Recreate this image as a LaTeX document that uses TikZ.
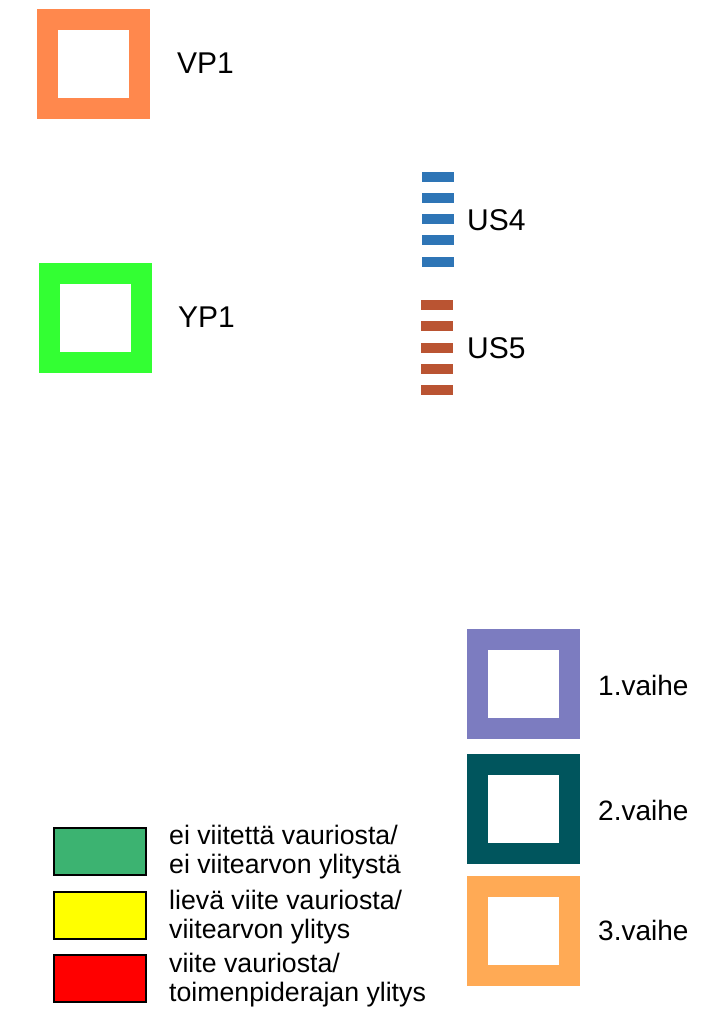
\documentclass[tikz,border=0pt]{standalone}
\usepackage{fontspec}
\setmainfont{Liberation Sans}
\usetikzlibrary{positioning}
\definecolor{vpOrange}{RGB}{255,136,77}
\definecolor{ypGreen}{RGB}{51,255,51}
\definecolor{usBlue}{RGB}{46,117,182}
\definecolor{usBrown}{RGB}{186,84,50}
\definecolor{phaseOne}{RGB}{124,124,192}
\definecolor{phaseTwo}{RGB}{0,85,93}
\definecolor{phaseThree}{RGB}{255,170,85}
\definecolor{keyGreen}{RGB}{60,179,113}
\definecolor{keyYellow}{RGB}{255,255,0}
\definecolor{keyRed}{RGB}{255,0,0}
\tikzset{
  frame/.style={draw=#1,line width=21pt,minimum width=92pt,minimum height=89pt,inner sep=0pt},
  lbl/.style={anchor=west,inner sep=0pt,font=\fontsize{30}{36}\selectfont},
  phaselbl/.style={anchor=west,inner sep=0pt,font=\fontsize{28}{34}\selectfont},
  key/.style={draw=black,line width=2pt,fill=#1,minimum width=92pt,minimum height=47pt,inner sep=0pt},
  keytxt/.style={anchor=west,inner sep=0pt,align=left,font=\fontsize{26.7}{29}\selectfont}
}
\begin{document}
\begin{tikzpicture}[x=1pt,y=-1pt]
\useasboundingbox (0,0) rectangle (709,1014);
% sample points
\node[frame=vpOrange] (vp1) at (93.5,64) {};
\node[lbl] (vp1lbl) at (177,63) {VP1};
\node[frame=ypGreen] (yp1) at (95,317.5) {};
\node[lbl] (yp1lbl) at (178,317) {YP1};
% US lines
\foreach \i in {0,...,4}
  \fill[usBlue] (422,171.5+21.3*\i) rectangle (454,181.5+21.3*\i);
\foreach \i in {0,...,4}
  \fill[usBrown] (421,300+21.3*\i) rectangle (453,310+21.3*\i);
\node[lbl] (us4) at (467,220) {US4};
\node[lbl] (us5) at (467,348) {US5};
% phases
\node[frame=phaseOne] (ph1) at (523.5,684) {};
\node[frame=phaseTwo] (ph2) at (523.5,808.5) {};
\node[frame=phaseThree] (ph3) at (523.5,930.5) {};
\node[phaselbl] (ph1lbl) at (598,685) {1.vaihe};
\node[phaselbl] (ph2lbl) at (598,810) {2.vaihe};
\node[phaselbl] (ph3lbl) at (598,930) {3.vaihe};
% legend
\node[key=keyGreen] (kgreen) at (100,851.5) {};
\node[key=keyYellow] (kyellow) at (100,915) {};
\node[key=keyRed] (kred) at (100,978.5) {};
\node[keytxt] (tgreen) at (169,852) {ei viitettä vauriosta/\\ei viitearvon ylitystä};
\node[keytxt] (tyellow) at (169,917) {lievä viite vauriosta/\\viitearvon ylitys};
\node[keytxt] (tred) at (169,980) {viite vauriosta/\\toimenpiderajan ylitys};
\end{tikzpicture}
\end{document}
